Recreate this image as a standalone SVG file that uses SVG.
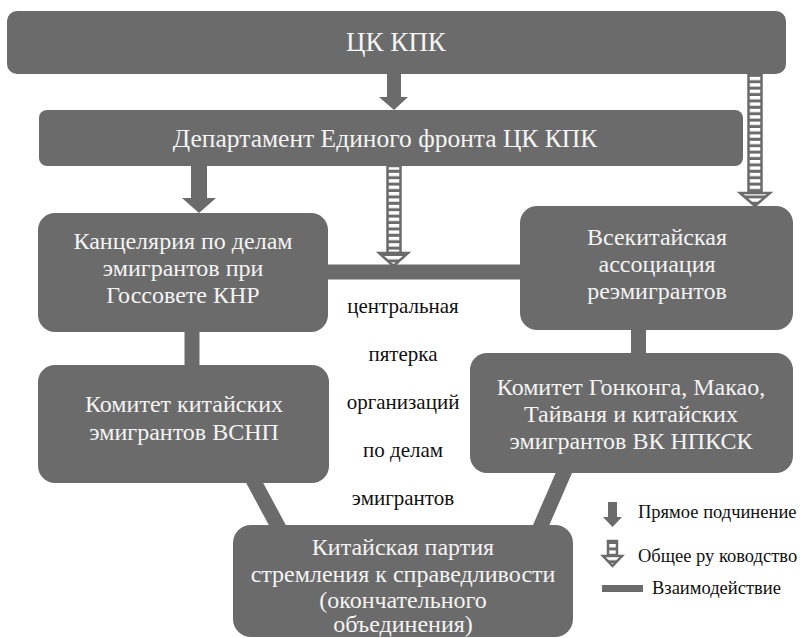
<svg xmlns="http://www.w3.org/2000/svg" width="810" height="638" viewBox="0 0 810 638">
<defs>
<style>
.box{fill:#6b6b6b}
text{font-family:'Liberation Serif','Times New Roman','DejaVu Serif',serif}
.bt{fill:#f4f4f4;text-anchor:middle;font-size:24px}
.bt.big{font-size:27px}
.bt.dep{font-size:25.5px}
.ct{fill:#111111;text-anchor:middle;font-size:21px}
.lt{fill:#111111;font-size:18.5px}
.solid{fill:#6b6b6b}
.hatch{fill:url(#hp);stroke:#6b6b6b;stroke-width:2.5}
.bar{stroke:#6b6b6b;stroke-width:15;fill:none}
</style>
<pattern id="hp" patternUnits="userSpaceOnUse" width="10" height="6.4">
<rect width="10" height="6.4" fill="#6b6b6b"/>
<rect y="0" width="10" height="3.4" fill="#ffffff"/>
</pattern>
</defs>
<rect width="810" height="638" fill="#ffffff"/>

<g id="connectors">
<line class="bar" x1="328" y1="272" x2="522" y2="272"/>
<line class="bar" x1="192" y1="330" x2="192" y2="367"/>
<line class="bar" x1="638.5" y1="328" x2="638.5" y2="355"/>
<line class="bar" x1="252" y1="478" x2="280" y2="530"/>
<line class="bar" x1="566" y1="468" x2="539" y2="530"/>
<path class="solid" d="M387,73 H401 V97 H408 L394,110 L379,97 H387 Z"/>
<path class="solid" d="M191,165 H207 V198 H216 L199,213 L182,198 H191 Z"/>
<rect class="hatch" x="387.5" y="166" width="13" height="87"/>
<path class="hatch" d="M379,253 H408 L393.5,266 Z"/>
<rect class="hatch" x="748.5" y="74" width="13" height="119"/>
<path class="hatch" d="M740,193 H770 L755,206 Z"/>
</g>

<g id="n-ckkpk">
<rect class="box" x="7" y="11" width="779" height="63" rx="10"/>
<text class="bt big" x="396" y="51">ЦК КПК</text>
</g>

<g id="n-department">
<rect class="box" x="39" y="110" width="704" height="56" rx="8"/>
<text class="bt dep" x="385" y="147">Департамент Единого фронта ЦК КПК</text>
</g>

<g id="n-chancellery">
<rect class="box" x="38" y="213" width="290" height="119" rx="17"/>
<text class="bt" x="183" y="249">Канцелярия по делам</text>
<text class="bt" x="183" y="276">эмигрантов при</text>
<text class="bt" x="183" y="303">Госсовете  КНР</text>
</g>

<g id="n-association">
<rect class="box" x="520" y="206" width="273" height="124" rx="17"/>
<text class="bt" x="657" y="245">Всекитайская</text>
<text class="bt" x="657" y="272">ассоциация</text>
<text class="bt" x="657" y="299">реэмигрантов</text>
</g>

<g id="n-committee-vsnp">
<rect class="box" x="38" y="365" width="291" height="118" rx="17"/>
<text class="bt" x="184" y="412">Комитет китайских</text>
<text class="bt" x="184" y="440">эмигрантов ВСНП</text>
</g>

<g id="n-committee-npksk">
<rect class="box" x="470" y="353" width="323" height="120" rx="17"/>
<text class="bt" x="631" y="395">Комитет Гонконга, Макао,</text>
<text class="bt" x="631" y="422">Тайваня и китайских</text>
<text class="bt" x="631" y="449">эмигрантов ВК НПКСК</text>
</g>

<g id="n-party">
<rect class="box" x="233" y="525" width="340" height="112" rx="18"/>
<text class="bt" x="403" y="555">Китайская партия</text>
<text class="bt" x="403" y="582">стремления к справедливости</text>
<text class="bt" x="403" y="608">(окончательного</text>
<text class="bt" x="403" y="632">объединения)</text>
</g>

<g id="centre-label">
<text class="ct" x="403" y="313">центральная</text>
<text class="ct" x="403" y="361">пятерка</text>
<text class="ct" x="403" y="409">организаций</text>
<text class="ct" x="403" y="457">по делам</text>
<text class="ct" x="403" y="505">эмигрантов</text>
</g>

<g id="legend">
<path class="solid" d="M608,502 H617 V517 H622 L612.5,527 L603,517 H608 Z"/>
<text class="lt" x="638" y="518">Прямое подчинение</text>
<rect class="hatch" x="608" y="541" width="9" height="15"/>
<path class="hatch" d="M603,556 H622 L612.5,566 Z"/>
<text class="lt" x="638" y="562">Общее ру ководство</text>
<rect class="solid" x="602" y="585" width="41" height="7"/>
<text class="lt" x="652" y="594">Взаимодействие</text>
</g>
</svg>
